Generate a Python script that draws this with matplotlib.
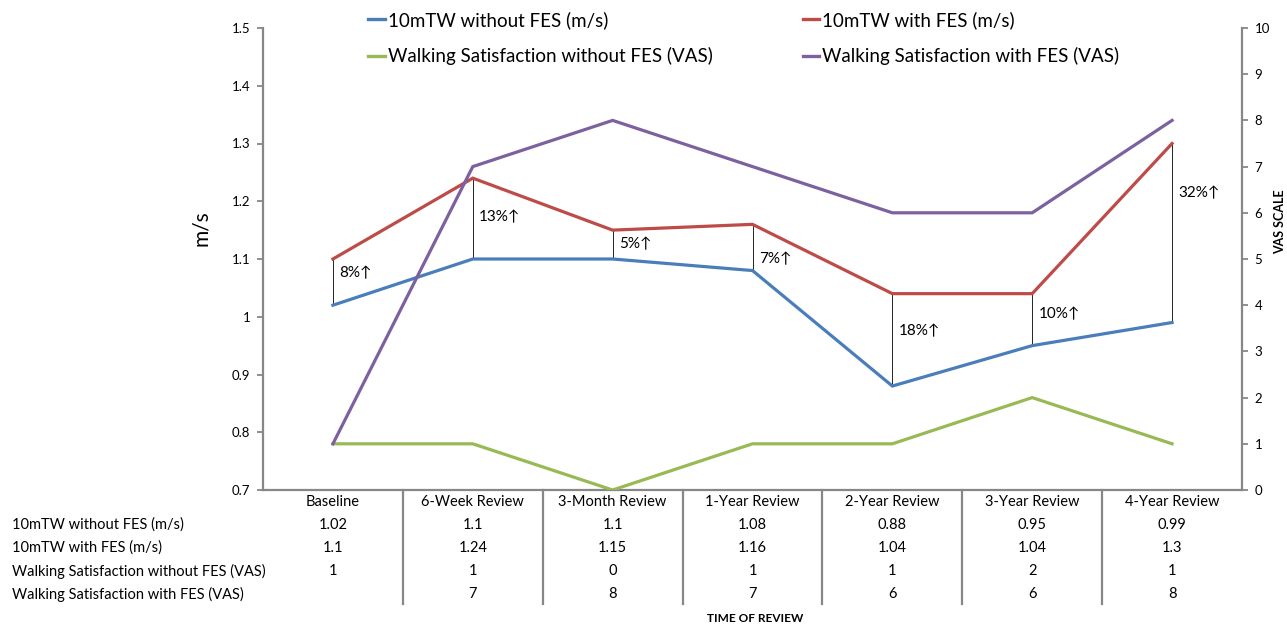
import numpy as np
import matplotlib
matplotlib.use('Agg')
import matplotlib.pyplot as plt
import matplotlib.transforms as mtrans
from matplotlib.lines import Line2D

# ---------------- data ----------------
categories = ['Baseline', '6-Week Review', '3-Month Review', '1-Year Review',
              '2-Year Review', '3-Year Review', '4-Year Review']
tw_without = [1.02, 1.1, 1.1, 1.08, 0.88, 0.95, 0.99]
tw_with = [1.1, 1.24, 1.15, 1.16, 1.04, 1.04, 1.3]
vas_without = [1, 1, 0, 1, 1, 2, 1]
vas_with = [1, 7, 8, 7, 6, 6, 8]
vas_with_table = ['', '7', '8', '7', '6', '6', '8']
gain_labels = ['8%↑', '13%↑', '5%↑', '7%↑', '18%↑', '10%↑', '32%↑']
series_names = ['10mTW without FES (m/s)', '10mTW with FES (m/s)',
                'Walking Satisfaction without FES (VAS)',
                'Walking Satisfaction with FES (VAS)']

# ---------------- style ----------------
plt.rcParams['font.family'] = ['Lato', 'DejaVu Sans']
C_BLUE = '#4A7EBB'
C_RED = '#BE4B48'
C_GREEN = '#98B954'
C_PURPLE = '#7D60A0'
C_AX = '#878787'
W, H = 1287, 627
LW = 2.3

fig = plt.figure(figsize=(W / 100, H / 100), dpi=100)
ax = fig.add_axes([263 / W, 1 - 490 / H, (1242 - 263) / W, 462 / H])
x = np.arange(len(categories))

ax.plot(x, tw_without, color=C_BLUE, lw=LW, solid_joinstyle='miter', zorder=3)
ax.plot(x, tw_with, color=C_RED, lw=LW, solid_joinstyle='miter', zorder=3)
ax.set_xlim(-0.5, len(categories) - 0.5)
ax.set_ylim(0.7, 1.5)
yt = np.round(np.arange(0.7, 1.501, 0.1), 1)
ax.set_yticks(yt)
ax.set_yticklabels([f'{v:g}' for v in yt])
ax.set_xticks([])
ax.tick_params(axis='y', labelsize=9.5, length=4, width=1.3, color=C_AX, pad=5)
for s in ['top', 'right']:
    ax.spines[s].set_visible(False)
for s in ['left', 'bottom']:
    ax.spines[s].set_color(C_AX)
    ax.spines[s].set_linewidth(1.6)
fig.text(201 / W, 1 - 228 / H, 'm/s', fontsize=15, rotation=90,
         ha='center', va='center')

# difference markers
label_y = [1.076, 1.173, 1.126, 1.10, 0.975, 1.005, 1.214]
for i in range(len(categories)):
    ax.plot([x[i], x[i]], [tw_without[i], tw_with[i]], color='black', lw=0.6, zorder=2)
    ax.text(x[i] + 0.045, label_y[i], gain_labels[i], fontsize=11,
            va='center', ha='left')

ax2 = ax.twinx()
ax2.plot(x, vas_without, color=C_GREEN, lw=LW, solid_joinstyle='miter', zorder=3)
ax2.plot(x, vas_with, color=C_PURPLE, lw=LW, solid_joinstyle='miter', zorder=3)
ax2.set_ylim(0, 10)
ax2.set_yticks(range(0, 11))
ax2.tick_params(axis='y', labelsize=9.5, length=4, width=1.3, color=C_AX, pad=5)
for s in ['top', 'left', 'bottom']:
    ax2.spines[s].set_visible(False)
ax2.spines['right'].set_color(C_AX)
ax2.spines['right'].set_linewidth(1.6)
fig.text(1280 / W, 1 - 222 / H, 'VAS SCALE', fontsize=9, fontweight='bold',
         rotation=90, ha='center', va='center')

# legend
handles = [Line2D([], [], color=c, lw=2.4) for c in [C_BLUE, C_GREEN, C_RED, C_PURPLE]]
labels = [series_names[0], series_names[2], series_names[1], series_names[3]]
fig.legend(handles, labels, loc='upper left', bbox_to_anchor=(368 / W, 1 - 11 / H),
           ncols=2, frameon=False, fontsize=13.5, handlelength=0.9,
           handletextpad=0.15, columnspacing=4.8, labelspacing=0.98,
           borderpad=0, borderaxespad=0)

# data table below axis
tr = mtrans.blended_transform_factory(ax.transData, fig.transFigure)
row_y = [502, 525, 548, 571, 594]
for i in range(len(categories) - 1):
    fig.add_artist(Line2D([x[i] + 0.5, x[i] + 0.5], [1 - 490 / H, 1 - 604 / H],
                          transform=tr, color=C_AX, lw=1.6))
for i, c in enumerate(categories):
    fig.text(x[i], 1 - row_y[0] / H, c, transform=tr, ha='center', va='center', fontsize=10.5)
rows = [[f'{v:g}' for v in tw_without], [f'{v:g}' for v in tw_with],
        [f'{v:g}' for v in vas_without], vas_with_table]
for r, vals in enumerate(rows):
    yy = 1 - row_y[r + 1] / H
    fig.text(12 / W, yy, series_names[r], ha='left', va='center', fontsize=10.5)
    for i, v in enumerate(vals):
        fig.text(x[i], yy, v, transform=tr, ha='center', va='center', fontsize=10.5)

fig.text(755 / W, 1 - 619 / H, 'TIME OF REVIEW', ha='center', va='center',
         fontsize=8.5, fontweight='bold')

fig.savefig('out.png', dpi=100)
